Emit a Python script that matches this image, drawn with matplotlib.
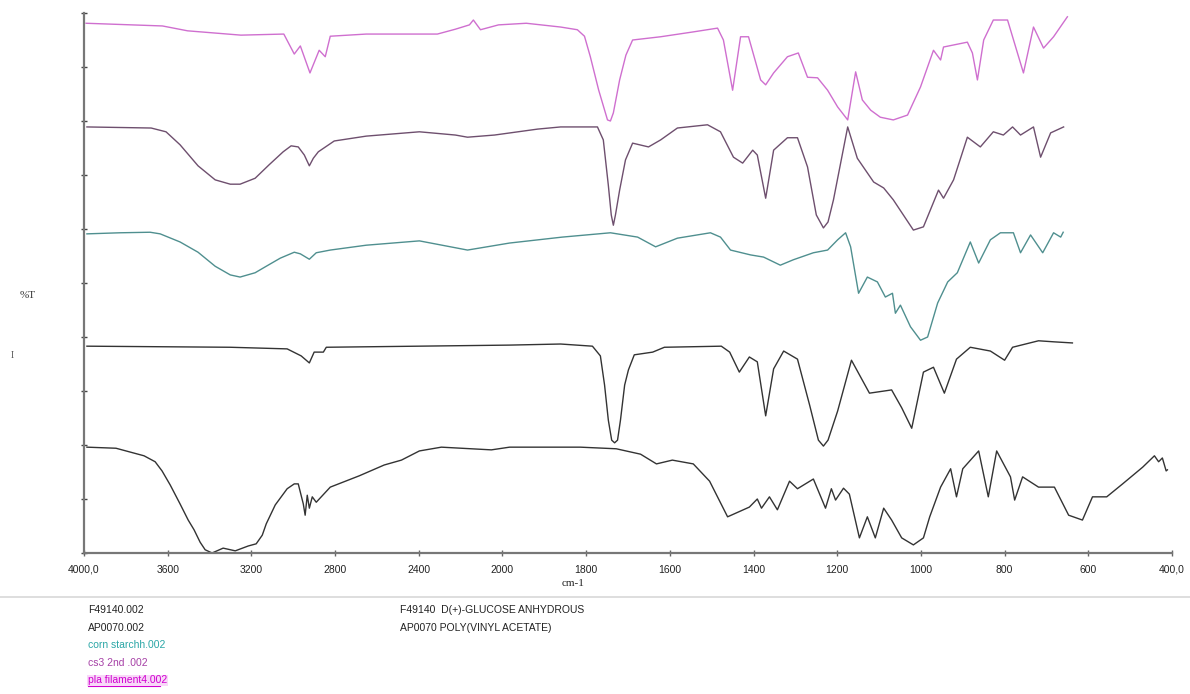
import numpy as np
import matplotlib
matplotlib.use("Agg")
import matplotlib.pyplot as plt
from matplotlib.lines import Line2D

# ---------------- data (wavenumber cm-1, stacked %T in display units) ----------------
pla_wn = [3990, 3625, 3505, 3250, 3045, 2995, 2966, 2920, 2876, 2847, 2823, 2651, 2311, 2225,
          2158, 2139, 2105, 2019, 1943, 1861, 1821, 1804, 1790, 1770, 1749, 1742, 1735, 1720,
          1705, 1689, 1622, 1544,
          1486, 1472, 1450, 1431, 1412, 1383, 1371, 1352, 1319, 1293, 1271, 1247, 1223, 1199,
          1175, 1156, 1140, 1120, 1097, 1066, 1032, 1001, 970, 953, 946, 889, 877, 865, 850,
          827, 793, 755, 731, 707, 683, 650]
pla_t = [9.81, 9.76, 9.67, 9.59, 9.61, 9.24, 9.39, 8.89, 9.31, 9.19, 9.57, 9.61, 9.61, 9.70,
         9.78, 9.87, 9.69, 9.78, 9.81, 9.74, 9.69, 9.57, 9.19, 8.57, 8.02, 8.00, 8.15, 8.76,
         9.22, 9.50, 9.56, 9.65,
         9.72, 9.50, 8.57, 9.56, 9.56, 8.76, 8.67, 8.89, 9.19, 9.26, 8.81, 8.80, 8.57, 8.26,
         8.02, 8.91, 8.39, 8.20, 8.07, 8.02, 8.11, 8.63, 9.31, 9.13, 9.37, 9.46, 9.26, 8.76, 9.50,
         9.87, 9.87, 8.89, 9.74, 9.35, 9.56, 9.93]

cs3_wn = [3986, 3679, 3608, 3541, 3455, 3373, 3301, 3254, 3182, 3115, 3048, 3010, 2976, 2947,
          2923, 2904, 2880, 2804, 2651, 2397,
          2225, 2167, 2038, 1916, 1861, 1773, 1759, 1747, 1740, 1735, 1730, 1720, 1706, 1689,
          1651, 1622, 1582, 1510,
          1479, 1448, 1426, 1402, 1391, 1371, 1352, 1319, 1295, 1271, 1250, 1233, 1222, 1209,
          1175, 1152,
          1113, 1089, 1066, 1042, 1018, 994, 958, 946, 922, 889, 858, 827, 803, 781, 762, 731,
          714, 690, 659]
cs3_t = [7.89, 7.87, 7.80, 7.56, 7.17, 6.91, 6.83, 6.83, 6.94, 7.19, 7.43, 7.54, 7.52, 7.37,
         7.17, 7.31, 7.43, 7.63, 7.72, 7.80,
         7.74, 7.70, 7.74, 7.85, 7.89, 7.89, 7.65, 6.81, 6.26, 6.07, 6.26, 6.72, 7.28, 7.59,
         7.52, 7.65, 7.87, 7.93,
         7.80, 7.33, 7.22, 7.46, 7.37, 6.57, 7.46, 7.69, 7.69, 7.15, 6.26, 6.02, 6.13, 6.54,
         7.89, 7.31,
         6.87, 6.76, 6.54, 6.26, 5.98, 6.04, 6.72, 6.57, 6.91, 7.70, 7.52, 7.80, 7.74, 7.89, 7.74, 7.89,
         7.33, 7.78, 7.89]

corn_wn = [3986, 3828, 3684, 3636, 3541, 3455, 3373, 3301, 3254, 3182, 3129, 3062, 2995, 2966,
           2923, 2890, 2823, 2651, 2397, 2167,
           1983, 1857, 1742, 1677, 1634, 1582, 1503, 1479, 1455, 1407, 1376, 1336, 1305, 1257,
           1223, 1199, 1180, 1168, 1149, 1128, 1104, 1085, 1068, 1061, 1049, 1025, 1001, 984,
           960, 936, 913, 882, 862, 834, 810, 779, 762, 738, 709, 683, 666, 660]
corn_t = [5.91, 5.93, 5.94, 5.91, 5.76, 5.57, 5.31, 5.15, 5.11, 5.19, 5.31, 5.46, 5.57, 5.54,
          5.44, 5.56, 5.61, 5.70, 5.78, 5.61,
          5.74, 5.85, 5.93, 5.85, 5.67, 5.83, 5.93, 5.85, 5.61, 5.52, 5.48, 5.33, 5.43, 5.56,
          5.61, 5.80, 5.93, 5.67, 4.81, 5.11, 5.02, 4.74, 4.81, 4.44, 4.59, 4.19, 3.94, 4.00,
          4.63, 5.02, 5.19, 5.76, 5.37, 5.80, 5.93, 5.93, 5.56, 5.89, 5.56, 5.93, 5.85, 5.94]

pvac_wn = [3986, 3301, 3029, 2962, 2923, 2900, 2856, 2842, 1983, 1861, 1785, 1766, 1756, 1747,
           1739, 1732, 1725, 1718, 1708, 1699,
           1685, 1641, 1613, 1477, 1457, 1434, 1410, 1391, 1371, 1352, 1328, 1295, 1266, 1245,
           1233, 1222,
           1199, 1166, 1147, 1123, 1070, 1046, 1022, 994, 970, 944, 915, 882, 834, 800, 781,
           719, 681, 638]
pvac_t = [3.83, 3.81, 3.78, 3.65, 3.52, 3.72, 3.72, 3.81, 3.85, 3.87, 3.83, 3.65, 3.11, 2.46,
          2.09, 2.04, 2.09, 2.46, 3.11, 3.39,
          3.67, 3.72, 3.81, 3.83, 3.72, 3.35, 3.63, 3.54, 2.54, 3.41, 3.74, 3.59, 2.74, 2.09,
          1.98, 2.09,
          2.63, 3.57, 3.30, 2.96, 3.02, 2.69, 2.31, 3.35, 3.44, 2.96, 3.59, 3.81, 3.74, 3.57, 3.81,
          3.93, 3.91, 3.89]

glu_wn = [3986, 3847, 3713, 3660, 3627, 3588, 3541, 3502, 3474, 3445, 3421, 3388, 3335, 3277,
          3215, 3177, 3148, 3129, 3086, 3029,
          2995, 2976, 2952, 2943, 2933, 2923, 2909, 2890, 2823, 2684, 2565, 2483, 2397, 2292, 2053,
          1983, 1814, 1728, 1670, 1632, 1594, 1544, 1505, 1462, 1410, 1391, 1381, 1362, 1343,
          1314, 1295, 1257, 1228, 1214, 1204, 1185, 1171, 1147, 1128, 1109, 1089, 1070, 1046,
          1018, 994, 979, 953, 929, 915, 900, 862, 839, 819, 786, 776, 757, 719, 681, 647, 614,
          590, 556, 518, 470, 442, 432, 423, 414, 411]
glu_t = [1.96, 1.94, 1.80, 1.69, 1.52, 1.26, 0.91, 0.61, 0.43, 0.20, 0.06, 0.00, 0.09, 0.04,
         0.13, 0.17, 0.33, 0.54, 0.89, 1.19,
         1.28, 1.28, 0.91, 0.70, 1.07, 0.83, 1.04, 0.94, 1.22, 1.43, 1.63, 1.72, 1.89, 1.96, 1.91,
         1.96, 1.96, 1.93, 1.83, 1.65, 1.72, 1.65, 1.33, 0.67, 0.85, 1.00, 0.83, 1.04, 0.80,
         1.33, 1.19, 1.37, 0.83, 1.19, 0.98, 1.20, 1.09, 0.28, 0.67, 0.28, 0.83, 0.61, 0.28,
         0.15, 0.28, 0.67, 1.22, 1.56, 1.04, 1.56, 1.89, 1.04, 1.89, 1.41, 0.98, 1.41, 1.22, 1.22, 0.70, 0.61,
         1.04, 1.04, 1.28, 1.59, 1.80, 1.69, 1.76, 1.52, 1.54]

x_ticks = [4000, 3600, 3200, 2800, 2400, 2000, 1800, 1600, 1400, 1200, 1000, 800, 600, 400]
x_tick_labels = ["4000,0", "3600", "3200", "2800", "2400", "2000", "1800", "1600", "1400",
                 "1200", "1000", "800", "600", "400,0"]

legend_files = ["F49140.002", "AP0070.002", "corn starchh.002", "cs3 2nd .002", "pla filament4.002"]
legend_names = ["F49140  D(+)-GLUCOSE ANHYDROUS", "AP0070 POLY(VINYL ACETATE)"]

# ---------------- figure ----------------
W, H = 1190, 694
fig = plt.figure(figsize=(W / 100, H / 100), dpi=100)
ax = fig.add_axes([84 / W, 1 - 553 / H, (1172 - 84) / W, 540 / H])


def fwd(w):
    w = np.asarray(w, dtype=float)
    return np.where(w >= 2000, 8 + (w - 2000) / 400.0, (w - 400) / 200.0)


def inv(g):
    g = np.asarray(g, dtype=float)
    return np.where(g >= 8, 2000 + (g - 8) * 400.0, 400 + g * 200.0)


ax.set_xscale("function", functions=(fwd, inv))

series = [
    (pla_wn, pla_t, "#cf6fcf"),
    (cs3_wn, cs3_t, "#6e4f6e"),
    (corn_wn, corn_t, "#4f8f8f"),
    (pvac_wn, pvac_t, "#333333"),
    (glu_wn, glu_t, "#333333"),
]
for wn, t, c in series:
    ax.plot(wn, t, color=c, lw=1.0, solid_joinstyle="round")

ax.set_xlim(4000, 400)
ax.set_ylim(0, 10)
ax.set_xticks(x_ticks)
ax.set_xticklabels(x_tick_labels, fontfamily="Liberation Sans", fontsize=7.5, color="#222222")
ax.minorticks_off()
ax.set_yticks(np.arange(0, 11, 1))
ax.set_yticklabels([])
ax.tick_params(axis="x", direction="inout", length=5, width=1, color="#666666", pad=6)
ax.tick_params(axis="y", direction="inout", length=4, width=1, color="#444444")
for s in ["top", "right"]:
    ax.spines[s].set_visible(False)
for s in ["left", "bottom"]:
    ax.spines[s].set_color("#777777")
    ax.spines[s].set_linewidth(1.6)

fig.text(573 / W, 1 - 583 / H, "cm-1", fontfamily="Liberation Serif", fontsize=8,
         color="#222222", ha="center", va="center")
fig.text(28 / W, 1 - 296 / H, "%T", fontfamily="Liberation Serif", fontsize=8,
         color="#333333", ha="center", va="center")
fig.text(12 / W, 1 - 355 / H, "I", fontfamily="Liberation Serif", fontsize=7,
         color="#555555", ha="center", va="center")

fig.add_artist(Line2D([0, 1], [1 - 597 / H] * 2, color="#d8d8d8", lw=1.2))

leg_colors = ["#222222", "#222222", "#2aa6a6", "#a640a6", "#d000d0"]
for i, (txt, c) in enumerate(zip(legend_files, leg_colors)):
    y = 1 - (610 + i * 17.6) / H
    t = fig.text(88 / W, y, txt, fontfamily="Liberation Sans", fontsize=7.5, color=c,
                 ha="left", va="center")
    if i == 4:
        t.set_bbox(dict(facecolor="#f8d8f8", edgecolor="none", pad=0.5))
        fig.add_artist(Line2D([88 / W, 160 / W], [y - 6 / H] * 2, color=c, lw=0.8))
for i, txt in enumerate(legend_names):
    y = 1 - (610 + i * 17.6) / H
    fig.text(400 / W, y, txt, fontfamily="Liberation Sans", fontsize=7.5, color="#222222",
             ha="left", va="center")

fig.savefig("out.png", dpi=100, facecolor="white")
